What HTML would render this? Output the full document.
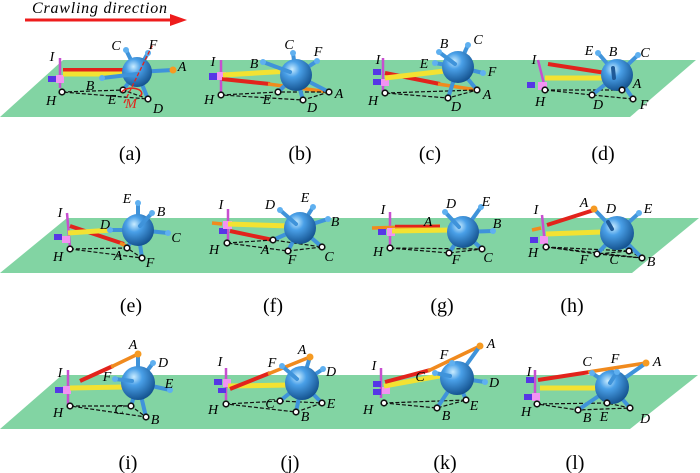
<!DOCTYPE html>
<html><head><meta charset="utf-8"><style>
html,body{margin:0;padding:0;background:#fff;}
svg{display:block}
.sp{stroke:#3f93da;stroke-width:4;stroke-linecap:round}
.kn{fill:#5fb0f0}
.ft{fill:#fff;stroke:#111;stroke-width:1.6}
.ds{stroke:#111;stroke-width:1.2;stroke-dasharray:4 2;fill:none}
.ye{stroke:#f3e232;stroke-width:5}
.rd{stroke:#e2231c;stroke-width:4}
.or{stroke:#f08a1e;stroke-width:3.5}
.mg{stroke:#c74fd0;stroke-width:2.5}
.pu{fill:#5636e6}
.pk{fill:#f293f2}
.ok{fill:#f59a22}
text{font-family:"Liberation Serif","DejaVu Serif",serif}
.lb{font-style:italic;font-size:14px;text-anchor:middle}
.cap{font-size:20px;text-anchor:middle}
</style></head><body>
<svg width="700" height="473" viewBox="0 0 700 473" xmlns="http://www.w3.org/2000/svg">
<defs>
<radialGradient id="sg" cx="38%" cy="32%" r="70%">
<stop offset="0" stop-color="#c9ecff"/><stop offset="0.35" stop-color="#4aa0e8"/><stop offset="1" stop-color="#14528f"/>
</radialGradient>
</defs>
<rect width="700" height="473" fill="#fff"/>
<!-- title -->
<text x="32" y="13" font-size="16" font-style="italic" textLength="135">Crawling direction</text>
<line x1="25" y1="20" x2="172" y2="20" stroke="#ee1c1c" stroke-width="3"/>
<polygon points="170,14 187,20 170,26" fill="#ee1c1c"/>

<!-- planes -->
<polygon points="63,60 696,60 630,117 0,117" fill="#82d4a3"/>
<polygon points="67,218 699,218 632,273 0,273" fill="#82d4a3"/>
<polygon points="62,375 698,375 630,429 0,429" fill="#82d4a3"/>

<!-- ===== (a) ===== -->
<g>
<line class="mg" x1="60" y1="58" x2="60" y2="88"/>
<rect class="pu" x="48" y="76" width="8" height="6"/><rect class="pk" x="56" y="75" width="8" height="8"/>
<line class="rd" x1="63" y1="70" x2="128" y2="70"/>
<line class="ye" x1="63" y1="74" x2="124" y2="74"/>
<polyline class="ds" points="62,92 123,90 148,99 62,92"/>
<g class="sp"><line x1="137" y1="72" x2="126" y2="50"/><line x1="137" y1="72" x2="148" y2="53"/><line x1="137" y1="72" x2="173" y2="70"/><line x1="137" y1="72" x2="123" y2="90"/><line x1="137" y1="72" x2="148" y2="99"/></g>
<circle cx="137" cy="72" r="15" fill="url(#sg)"/>
<line class="sp" x1="137" y1="74" x2="102" y2="78"/>
<circle class="kn" cx="126" cy="50" r="3"/><circle class="kn" cx="148" cy="53" r="3"/><circle class="kn" cx="102" cy="78" r="3"/><circle class="ok" cx="173" cy="70" r="3.5"/>
<circle class="ft" cx="62" cy="92" r="2.8"/><circle class="ft" cx="123" cy="90" r="2.8"/><circle class="ft" cx="148" cy="99" r="2.8"/>
<line x1="124" y1="103" x2="153" y2="44" stroke="#e2231c" stroke-width="1.3" stroke-dasharray="4 2"/>
<path d="M122,92 A10,5 0 1 1 140,96" fill="none" stroke="#e2231c" stroke-width="1.5"/>
<g class="lb"><text x="52" y="61">I</text><text x="116" y="50">C</text><text x="153" y="49">F</text><text x="182" y="71">A</text><text x="90" y="90">B</text><text x="51" y="105">H</text><text x="112" y="104">E</text><text x="131" y="108" fill="#e2231c">M</text><text x="158" y="113">D</text></g>
</g>

<!-- ===== (b) ===== -->
<g>
<line class="mg" x1="221" y1="60" x2="221" y2="94"/>
<rect class="pu" x="209" y="73" width="8" height="7"/><rect class="pk" x="217" y="72" width="9" height="8"/>
<line class="rd" x1="222" y1="79" x2="270" y2="84"/>
<line class="or" x1="268" y1="84" x2="329" y2="92"/>
<line class="ye" x1="223" y1="75" x2="290" y2="71"/>
<polyline class="ds" points="221,95 278,92 329,92 303,100 221,95"/>
<g class="sp"><line x1="296" y1="75" x2="293" y2="53"/><line x1="296" y1="75" x2="317" y2="61"/><line x1="296" y1="75" x2="278" y2="92"/><line x1="296" y1="75" x2="303" y2="100"/><line x1="296" y1="75" x2="329" y2="92"/></g>
<circle cx="296" cy="75" r="16" fill="url(#sg)"/>
<line class="sp" x1="290" y1="72" x2="263" y2="62"/>
<circle class="kn" cx="263" cy="62" r="3"/><circle class="kn" cx="293" cy="53" r="3"/><circle class="kn" cx="317" cy="61" r="3"/>
<circle class="ft" cx="221" cy="95" r="2.8"/><circle class="ft" cx="278" cy="92" r="2.8"/><circle class="ft" cx="303" cy="100" r="2.8"/><circle class="ft" cx="329" cy="92" r="2.8"/>
<g class="lb"><text x="213" y="66">I</text><text x="254" y="68">B</text><text x="289" y="49">C</text><text x="318" y="56">F</text><text x="339" y="98">A</text><text x="209" y="104">H</text><text x="267" y="104">E</text><text x="312" y="112">D</text></g>
</g>

<!-- ===== (c) ===== -->
<g>
<line class="mg" x1="383" y1="58" x2="383" y2="92"/>
<rect class="pu" x="373" y="69" width="8" height="6"/><rect class="pu" x="373" y="79" width="8" height="6"/><rect class="pk" x="381" y="79" width="8" height="7"/>
<line class="rd" x1="385" y1="73" x2="440" y2="84"/>
<line class="or" x1="438" y1="84" x2="477" y2="90"/>
<line class="ye" x1="385" y1="78" x2="445" y2="71"/>
<polyline class="ds" points="385,93 477,90 448,98 385,93"/>
<g class="sp"><line x1="458" y1="67" x2="468" y2="45"/><line x1="458" y1="67" x2="483" y2="73"/><line x1="458" y1="67" x2="448" y2="98"/><line x1="458" y1="67" x2="477" y2="90"/><line x1="458" y1="67" x2="435" y2="63"/></g>
<circle cx="458" cy="67" r="16" fill="url(#sg)"/>
<line class="sp" x1="455" y1="64" x2="439" y2="52"/>
<circle class="kn" cx="439" cy="52" r="3"/><circle class="kn" cx="468" cy="45" r="3"/><circle class="kn" cx="483" cy="73" r="3"/><circle class="kn" cx="435" cy="63" r="3"/>
<circle class="ft" cx="385" cy="93" r="2.8"/><circle class="ft" cx="448" cy="98" r="2.8"/><circle class="ft" cx="477" cy="90" r="2.8"/>
<g class="lb"><text x="378" y="64">I</text><text x="444" y="48">B</text><text x="478" y="44">C</text><text x="424" y="68">E</text><text x="492" y="76">F</text><text x="487" y="99">A</text><text x="373" y="105">H</text><text x="456" y="111">D</text></g>
</g>

<!-- ===== (d) ===== -->
<g>
<line class="mg" x1="538" y1="60" x2="545" y2="88"/>
<rect class="pu" x="527" y="82" width="8" height="6"/><rect class="pk" x="538" y="82" width="9" height="8"/>
<line class="rd" x1="548" y1="64" x2="606" y2="73"/>
<line class="ye" x1="545" y1="78" x2="604" y2="78"/>
<polyline class="ds" points="545,90 622,90"/><polyline class="ds" points="545,90 592,95 633,99"/>
<g class="sp"><line x1="617" y1="75" x2="598" y2="53"/><line x1="617" y1="75" x2="638" y2="55"/><line x1="617" y1="75" x2="592" y2="95"/><line x1="617" y1="75" x2="622" y2="90"/><line x1="617" y1="75" x2="633" y2="99"/></g>
<circle cx="617" cy="75" r="16" fill="url(#sg)"/>
<line x1="614" y1="78" x2="613" y2="68" stroke="#1f5a98" stroke-width="4" stroke-linecap="round"/>
<circle class="kn" cx="598" cy="53" r="3"/><circle class="kn" cx="638" cy="55" r="3"/>
<circle class="ft" cx="545" cy="90" r="2.8"/><circle class="ft" cx="592" cy="95" r="2.8"/><circle class="ft" cx="622" cy="90" r="2.8"/><circle class="ft" cx="633" cy="99" r="2.8"/>
<g class="lb"><text x="534" y="64">I</text><text x="589" y="55">E</text><text x="613" y="56">B</text><text x="645" y="57">C</text><text x="637" y="88">A</text><text x="540" y="106">H</text><text x="598" y="109">D</text><text x="644" y="109">F</text></g>
</g>

<!-- ===== (e) ===== -->
<g>
<line class="mg" x1="67" y1="213" x2="70" y2="248"/>
<rect class="pu" x="54" y="234" width="8" height="6"/><rect class="pk" x="62" y="236" width="8" height="7"/>
<line class="rd" x1="70" y1="226" x2="124" y2="244"/>
<line class="or" x1="120" y1="243" x2="128" y2="247"/>
<line class="ye" x1="68" y1="233" x2="112" y2="230"/>
<polyline class="ds" points="70,249 127,248 142,258 70,249"/>
<g class="sp"><line x1="138" y1="230" x2="138" y2="203"/><line x1="138" y1="230" x2="110" y2="230"/><line x1="138" y1="230" x2="168" y2="233"/><line x1="138" y1="230" x2="127" y2="248"/><line x1="138" y1="230" x2="142" y2="258"/></g>
<circle cx="138" cy="230" r="16" fill="url(#sg)"/>
<line class="sp" x1="140" y1="226" x2="152" y2="213"/>
<circle class="kn" cx="138" cy="203" r="3"/><circle class="kn" cx="152" cy="213" r="3"/><circle class="kn" cx="110" cy="230" r="3"/><circle class="kn" cx="168" cy="233" r="3"/>
<circle class="ft" cx="70" cy="249" r="2.8"/><circle class="ft" cx="127" cy="248" r="2.8"/><circle class="ft" cx="142" cy="258" r="2.8"/>
<g class="lb"><text x="60" y="217">I</text><text x="127" y="203">E</text><text x="161" y="216">B</text><text x="105" y="229">D</text><text x="176" y="242">C</text><text x="58" y="261">H</text><text x="118" y="260">A</text><text x="150" y="267">F</text></g>
</g>

<!-- ===== (f) ===== -->
<g>
<line class="mg" x1="228" y1="209" x2="228" y2="243"/>
<line class="or" x1="212" y1="223" x2="222" y2="224"/>
<rect class="pu" x="219" y="228" width="8" height="6"/><rect class="pk" x="223" y="221" width="9" height="8"/>
<line class="rd" x1="230" y1="231" x2="273" y2="240"/>
<line class="ye" x1="228" y1="224" x2="290" y2="226"/>
<polyline class="ds" points="227,243 273,240 322,247 288,251 227,243"/>
<g class="sp"><line x1="300" y1="228" x2="313" y2="207"/><line x1="300" y1="228" x2="328" y2="219"/><line x1="300" y1="228" x2="273" y2="240"/><line x1="300" y1="228" x2="288" y2="251"/><line x1="300" y1="228" x2="322" y2="247"/></g>
<circle cx="300" cy="228" r="16" fill="url(#sg)"/>
<line class="sp" x1="296" y1="224" x2="280" y2="210"/>
<circle class="kn" cx="280" cy="210" r="3"/><circle class="kn" cx="313" cy="207" r="3"/><circle class="kn" cx="328" cy="219" r="3"/>
<circle class="ft" cx="227" cy="243" r="2.8"/><circle class="ft" cx="273" cy="240" r="2.8"/><circle class="ft" cx="288" cy="251" r="2.8"/><circle class="ft" cx="322" cy="247" r="2.8"/>
<g class="lb"><text x="221" y="209">I</text><text x="270" y="209">D</text><text x="305" y="202">E</text><text x="335" y="226">B</text><text x="214" y="254">H</text><text x="265" y="254">A</text><text x="292" y="264">F</text><text x="329" y="261">C</text></g>
</g>

<!-- ===== (g) ===== -->
<g>
<line class="mg" x1="390" y1="212" x2="390" y2="247"/>
<line class="or" x1="372" y1="228" x2="440" y2="226"/>
<rect class="pu" x="378" y="229" width="8" height="6"/><rect class="pk" x="387" y="228" width="8" height="8"/>
<line x1="395" y1="226" x2="440" y2="226" stroke="#e2231c" stroke-width="2.5"/>
<line class="ye" x1="392" y1="231" x2="452" y2="230"/>
<polyline class="ds" points="390,248 449,253 482,249 390,248"/>
<g class="sp"><line x1="463" y1="232" x2="481" y2="207"/><line x1="463" y1="232" x2="493" y2="231"/><line x1="463" y1="232" x2="449" y2="253"/><line x1="463" y1="232" x2="482" y2="249"/></g>
<circle cx="463" cy="232" r="16" fill="url(#sg)"/>
<line class="sp" x1="459" y1="227" x2="445" y2="212"/>
<circle class="kn" cx="445" cy="212" r="3"/><circle class="kn" cx="481" cy="207" r="3"/><circle class="kn" cx="493" cy="231" r="3"/>
<circle class="ft" cx="390" cy="248" r="2.8"/><circle class="ft" cx="449" cy="253" r="2.8"/><circle class="ft" cx="482" cy="249" r="2.8"/>
<g class="lb"><text x="383" y="214">I</text><text x="451" y="208">D</text><text x="486" y="206">E</text><text x="428" y="226">A</text><text x="497" y="228">B</text><text x="378" y="256">H</text><text x="456" y="264">F</text><text x="488" y="262">C</text></g>
</g>

<!-- ===== (h) ===== -->
<g>
<line class="mg" x1="542" y1="215" x2="545" y2="245"/>
<line class="or" x1="532" y1="230" x2="541" y2="228"/>
<rect class="pu" x="530" y="237" width="8" height="6"/><rect class="pk" x="540" y="236" width="8" height="8"/>
<line class="rd" x1="547" y1="225" x2="594" y2="210"/>
<line class="ye" x1="546" y1="234" x2="602" y2="232"/>
<polyline class="ds" points="546,247 597,254 629,251 642,258 546,247"/><line class="ds" x1="597" y1="254" x2="642" y2="258"/><line class="ds" x1="546" y1="247" x2="629" y2="251"/>
<g class="sp"><line x1="617" y1="233" x2="594" y2="209"/><line x1="617" y1="233" x2="639" y2="213"/><line x1="617" y1="233" x2="597" y2="254"/><line x1="617" y1="233" x2="629" y2="251"/><line x1="617" y1="233" x2="642" y2="258"/></g>
<circle cx="617" cy="233" r="17" fill="url(#sg)"/>
<line x1="612" y1="229" x2="608" y2="222" stroke="#1f5a98" stroke-width="4" stroke-linecap="round"/>
<circle class="ok" cx="594" cy="209" r="3.5"/><circle class="kn" cx="639" cy="213" r="3"/>
<circle class="ft" cx="546" cy="247" r="2.8"/><circle class="ft" cx="597" cy="254" r="2.8"/><circle class="ft" cx="629" cy="251" r="2.8"/><circle class="ft" cx="642" cy="258" r="2.8"/>
<g class="lb"><text x="536" y="214">I</text><text x="584" y="207">A</text><text x="611" y="213">D</text><text x="648" y="213">E</text><text x="533" y="257">H</text><text x="584" y="264">F</text><text x="614" y="264">C</text><text x="651" y="266">B</text></g>
</g>

<!-- ===== (i) ===== -->
<g>
<line class="mg" x1="68" y1="370" x2="68" y2="405"/>
<rect class="pu" x="55" y="387" width="8" height="6"/><rect class="pk" x="63" y="386" width="8" height="8"/>
<line class="ye" x1="70" y1="388" x2="125" y2="387"/>
<line class="rd" x1="80" y1="381" x2="113" y2="366"/>
<line class="or" x1="111" y1="367" x2="138" y2="354"/>
<polyline class="ds" points="70,406 131,406 146,417 70,406"/>
<g class="sp"><line x1="138" y1="383" x2="138" y2="354"/><line x1="138" y1="383" x2="153" y2="363"/><line x1="138" y1="383" x2="170" y2="390"/><line x1="138" y1="383" x2="131" y2="406"/><line x1="138" y1="383" x2="146" y2="417"/></g>
<circle cx="138" cy="383" r="17" fill="url(#sg)"/>
<line class="sp" x1="132" y1="381" x2="115" y2="379"/>
<circle class="ok" cx="138" cy="354" r="3.5"/><circle class="kn" cx="153" cy="363" r="3"/><circle class="kn" cx="115" cy="379" r="3"/><circle class="kn" cx="170" cy="390" r="3"/>
<circle class="ft" cx="70" cy="406" r="2.8"/><circle class="ft" cx="131" cy="406" r="2.8"/><circle class="ft" cx="146" cy="417" r="2.8"/>
<g class="lb"><text x="60" y="377">I</text><text x="133" y="349">A</text><text x="163" y="367">D</text><text x="107" y="381">F</text><text x="169" y="388">E</text><text x="58" y="417">H</text><text x="119" y="414">C</text><text x="155" y="424">B</text></g>
</g>

<!-- ===== (j) ===== -->
<g>
<line class="mg" x1="226" y1="368" x2="226" y2="400"/>
<rect class="pu" x="214" y="379" width="8" height="6"/><rect class="pu" x="218" y="388" width="8" height="5"/><rect class="pk" x="223" y="379" width="8" height="8"/>
<line class="ye" x1="228" y1="386" x2="290" y2="385"/>
<line class="rd" x1="230" y1="389" x2="270" y2="373"/>
<line class="or" x1="268" y1="374" x2="310" y2="357"/>
<polyline class="ds" points="226,404 280,401 322,403 296,412 226,404"/>
<g class="sp"><line x1="302" y1="383" x2="310" y2="357"/><line x1="302" y1="383" x2="323" y2="369"/><line x1="302" y1="383" x2="280" y2="401"/><line x1="302" y1="383" x2="296" y2="412"/><line x1="302" y1="383" x2="322" y2="403"/></g>
<circle cx="302" cy="383" r="17" fill="url(#sg)"/>
<line class="sp" x1="297" y1="379" x2="282" y2="366"/>
<circle class="ok" cx="310" cy="357" r="3.5"/><circle class="kn" cx="282" cy="366" r="3"/><circle class="kn" cx="323" cy="369" r="3"/>
<circle class="ft" cx="226" cy="404" r="2.8"/><circle class="ft" cx="280" cy="401" r="2.8"/><circle class="ft" cx="296" cy="412" r="2.8"/><circle class="ft" cx="322" cy="403" r="2.8"/>
<g class="lb"><text x="220" y="366">I</text><text x="302" y="354">A</text><text x="272" y="367">F</text><text x="331" y="376">D</text><text x="213" y="414">H</text><text x="270" y="408">C</text><text x="305" y="421">B</text><text x="331" y="408">E</text></g>
</g>

<!-- ===== (k) ===== -->
<g>
<line class="mg" x1="381" y1="368" x2="381" y2="398"/>
<rect class="pu" x="373" y="381" width="8" height="6"/><rect class="pu" x="373" y="389" width="8" height="6"/><rect class="pk" x="382" y="387" width="8" height="7"/>
<line class="ye" x1="384" y1="386" x2="445" y2="375"/>
<line class="rd" x1="385" y1="382" x2="430" y2="370"/>
<line class="or" x1="428" y1="371" x2="480" y2="346"/>
<polyline class="ds" points="384,403 437,408 466,400 384,403"/>
<g class="sp"><line x1="457" y1="378" x2="452" y2="363"/><line x1="457" y1="378" x2="485" y2="382"/><line x1="457" y1="378" x2="437" y2="408"/><line x1="457" y1="378" x2="466" y2="400"/><line x1="457" y1="378" x2="480" y2="346"/></g>
<circle cx="457" cy="378" r="17" fill="url(#sg)"/>
<line class="sp" x1="450" y1="376" x2="435" y2="373"/>
<circle class="ok" cx="480" cy="346" r="3.5"/><circle class="kn" cx="452" cy="363" r="3"/><circle class="kn" cx="485" cy="382" r="3"/><circle class="kn" cx="435" cy="373" r="3"/>
<circle class="ft" cx="384" cy="403" r="2.8"/><circle class="ft" cx="437" cy="408" r="2.8"/><circle class="ft" cx="466" cy="400" r="2.8"/>
<g class="lb"><text x="374" y="370">I</text><text x="444" y="359">F</text><text x="491" y="348">A</text><text x="420" y="381">C</text><text x="494" y="387">D</text><text x="368" y="414">H</text><text x="446" y="420">B</text><text x="474" y="410">E</text></g>
</g>

<!-- ===== (l) ===== -->
<g>
<line class="mg" x1="535" y1="370" x2="535" y2="397"/>
<rect class="pu" x="526" y="377" width="8" height="6"/><rect class="pu" x="524" y="394" width="8" height="6"/><rect class="pk" x="532" y="393" width="8" height="8"/>
<line class="rd" x1="538" y1="380" x2="590" y2="372"/>
<line class="or" x1="588" y1="372" x2="646" y2="363"/>
<line class="ye" x1="540" y1="388" x2="600" y2="388"/>
<polyline class="ds" points="537,404 607,403 630,408 578,410 537,404"/>
<g class="sp"><line x1="612" y1="387" x2="617" y2="372"/><line x1="612" y1="387" x2="646" y2="363"/><line x1="612" y1="387" x2="578" y2="410"/><line x1="612" y1="387" x2="607" y2="403"/><line x1="612" y1="387" x2="630" y2="408"/><line x1="612" y1="387" x2="592" y2="373"/></g>
<circle cx="612" cy="387" r="17" fill="url(#sg)"/>
<line class="sp" x1="610" y1="383" x2="617" y2="372"/>
<circle class="kn" cx="592" cy="373" r="3"/><circle class="kn" cx="617" cy="372" r="3"/><circle class="ok" cx="646" cy="363" r="3.5"/>
<circle class="ft" cx="537" cy="404" r="2.8"/><circle class="ft" cx="578" cy="410" r="2.8"/><circle class="ft" cx="607" cy="403" r="2.8"/><circle class="ft" cx="630" cy="408" r="2.8"/>
<g class="lb"><text x="529" y="376">I</text><text x="587" y="366">C</text><text x="615" y="363">F</text><text x="657" y="366">A</text><text x="526" y="416">H</text><text x="587" y="422">B</text><text x="604" y="421">E</text><text x="645" y="423">D</text></g>
</g>

<!-- captions -->
<g class="cap">
<text x="130" y="160">(a)</text><text x="300" y="160">(b)</text><text x="430" y="160">(c)</text><text x="603" y="160">(d)</text>
<text x="131" y="312">(e)</text><text x="273" y="312">(f)</text><text x="442" y="312">(g)</text><text x="572" y="312">(h)</text>
<text x="128" y="469">(i)</text><text x="290" y="469">(j)</text><text x="445" y="469">(k)</text><text x="575" y="469">(l)</text>
</g>
</svg>
</body></html>
